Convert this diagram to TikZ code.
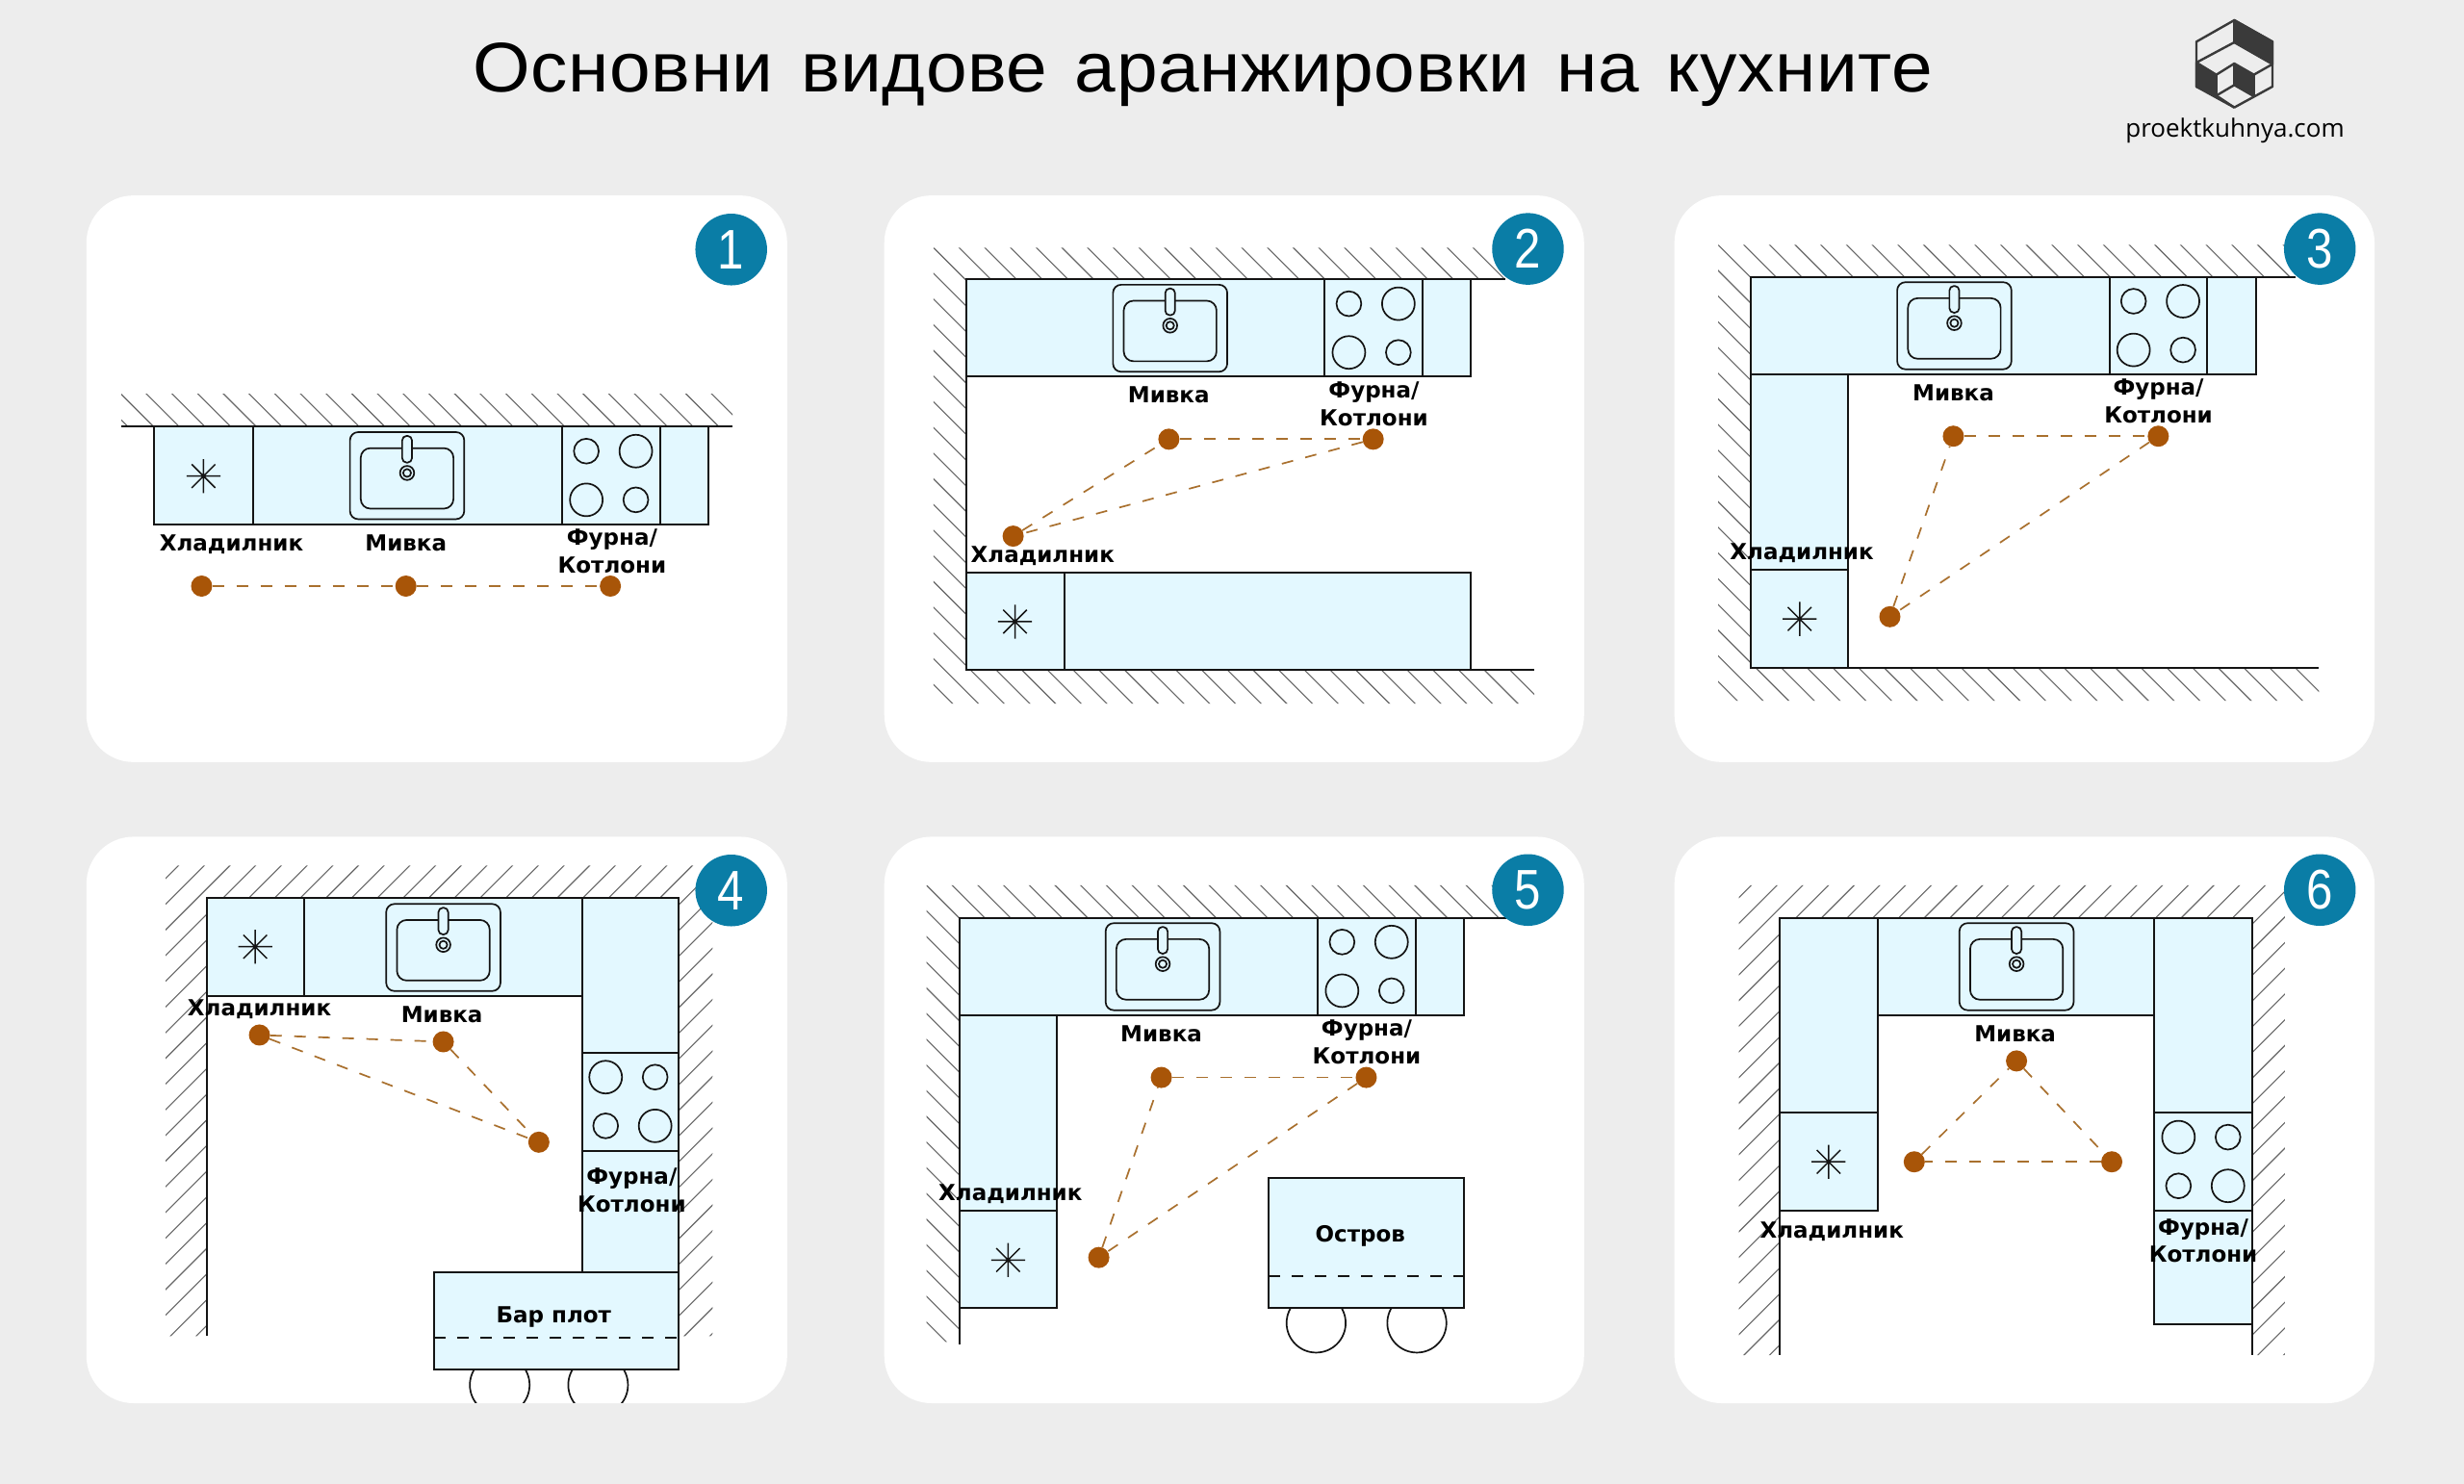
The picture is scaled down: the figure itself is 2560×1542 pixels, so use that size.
\documentclass[tikz,border=0pt]{standalone}
\usepackage{fontspec}
\setmainfont{Liberation Sans}
\newfontfamily\lblfam{DejaVu Sans}[BoldFont={DejaVu Sans Bold}]
\newfontfamily\titlefam{Liberation Sans}[FakeStretch=1.05,LetterSpace=0.8,WordSpace=1.3]
\newfontfamily\digitfam{Liberation Sans}[FakeStretch=0.85]
\newfontfamily\logofam{Open Sans}
\definecolor{bgc}{HTML}{EDEDED}
\definecolor{cabc}{HTML}{E3F8FF}
\definecolor{inkc}{HTML}{141414}
\definecolor{hatchc}{HTML}{666666}
\definecolor{dotc}{HTML}{A85508}
\definecolor{dashc}{HTML}{A9702E}
\definecolor{badgec}{HTML}{0A7DA6}
\definecolor{logoc}{HTML}{3A3A3A}
\tikzset{
  panelbox/.style={fill=white,draw=none,rounded corners=49pt},
  cab/.style={fill=cabc,draw=inkc,line width=2pt},
  wallline/.style={draw=inkc,line width=2pt},
  hatchline/.style={draw=hatchc,line width=1.1pt},
  fixture/.style={draw=inkc,line width=1.7pt},
  lbl/.style={font=\lblfam\bfseries\fontsize{23}{28.4}\selectfont,text=black,inner sep=0pt,align=center},
  lblone/.style={lbl,text height=16.5pt,text depth=0pt},
  tridot/.style={circle,fill=dotc,draw=none,minimum size=22pt,inner sep=0pt},
  tri/.style={draw=dashc,line width=1.7pt,dash pattern=on 12pt off 13pt},
  badge/.style={circle,fill=badgec,draw=none,minimum size=74.5pt,inner sep=0pt,text=white,font=\digitfam\fontsize{58}{58}\selectfont},
  counterdash/.style={draw=inkc,line width=1.7pt,dash pattern=on 12pt off 12pt},
  logoline/.style={draw=logoc,line width=2.4pt,line join=round},
  logofill/.style={fill=logoc,draw=logoc,line width=2.4pt,line join=round},
}
% hatch lines through a point, to be used inside a clip
\newcommand{\hatchback}[2]{\foreach \k in {-40,...,40}{\draw[hatchline] ({#1+\k*16.35-300},{#2-300}) -- ({#1+\k*16.35+300},{#2+300});}}
\newcommand{\hatchfwd}[2]{\foreach \k in {-40,...,40}{\draw[hatchline] ({#1+\k*16.35+300},{#2-300}) -- ({#1+\k*16.35-300},{#2+300});}}
\newcommand{\sinkat}[2]{\begin{scope}[shift={(#1,#2)}]
  \draw[fixture,rounded corners=8.5pt] (-36.35,-27.7) rectangle (36.35,27.7);
  \draw[fixture,rounded corners=10pt] (-29.5,-17.5) rectangle (29.5,21);
  \draw[fixture,fill=cabc,rounded corners=4.6pt] (-3.1,-25.3) rectangle (3.1,-8.3);
  \draw[fixture] (0,-1.7) circle (4.5);
  \draw[fixture] (0,-1.7) circle (2.5);
\end{scope}}
\newcommand{\hobat}[4]{\begin{scope}[shift={(#1,#2)}]
  \draw[fixture] (-15.75,-15.5) circle (#3);
  \draw[fixture] (15.75,-15.5) circle (#4);
  \draw[fixture] (-15.75,15.5) circle (#4);
  \draw[fixture] (15.75,15.5) circle (#3);
\end{scope}}
\newcommand{\snowat}[2]{\begin{scope}[shift={(#1,#2)}]
  \draw[fixture,line width=1.5pt] (-10.8,0)--(10.8,0) (0,-10.8)--(0,10.8) (-7.5,-7.5)--(7.5,7.5) (-7.5,7.5)--(7.5,-7.5);
\end{scope}}
\begin{document}
\begin{tikzpicture}[x=1pt,y=-1pt]
\useasboundingbox (0,0) rectangle (2560,1542);
\fill[bgc] (0,0) rectangle (2560,1542);

% title
\node[anchor=base,inner sep=0pt,font=\titlefam\fontsize{73}{80}\selectfont] (title) at (1250,95) {Основни видове аранжировки на кухните};

% logo
\begin{scope}[shift={(2150,0)},x=0.3333pt,y=-0.3333pt]
  \draw[logoline] (514,63)--(633,130)--(633,270)--(514,335)--(396,270)--(396,130)--cycle;
  \draw[logofill] (514,63)--(633,130)--(633,200)--(514,132)--cycle;
  \draw[logofill] (396,195)--(458,233)--(458,298)--(396,270)--cycle;
  \draw[logofill] (514,198)--(575,233)--(575,300)--(514,265)--cycle;
  \draw[logoline] (396,195)--(514,132);
  \draw[logoline] (458,233)--(514,198);
  \draw[logoline] (575,233)--(633,200);
  \draw[logoline] (458,298)--(514,265);
  \draw[logoline] (458,298)--(514,335);
\end{scope}
\node[inner sep=0pt,font=\logofam\fontsize{26}{30}\selectfont] (logotext) at (2322,136) {proektkuhnya.com};

\begin{scope}[x=1.6327pt,y=-1.6327pt]
% ---------- panel backgrounds
\fill[panelbox] (55,124.4) rectangle (500.9,485);
\fill[panelbox] (562.7,124.4) rectangle (1008,485);
\fill[panelbox] (1065.5,124.4) rectangle (1511,485);
\fill[panelbox] (55,532.5) rectangle (500.9,893);
\fill[panelbox] (562.7,532.5) rectangle (1008,893);
\fill[panelbox] (1065.5,532.5) rectangle (1511,893);

% ---------- panel 1
\begin{scope}
  \clip (77.2,251)--(466.2,251)--(466.2,271.6)--(77.2,271.6)--cycle;
  \hatchback{77.2}{251}
\end{scope}
\draw[cab] (98.3,271.6) rectangle (161,333.6);
\draw[cab] (161,271.6) rectangle (357.8,333.6);
\draw[cab] (357.8,271.6) rectangle (419.9,333.6);
\draw[cab] (419.9,271.6) rectangle (450.7,333.6);
\draw[wallline] (77.2,271.6)--(466.2,271.6);
\sinkat{259.05}{302.7}
\hobat{388.85}{302.6}{7.9}{10.4}
\snowat{129.5}{303}
\node[lblone] (l1f) at (147.3,345.4) {Хладилник};
\node[lblone] (l1s) at (258.3,345.4) {Мивка};
\node[lbl] (l1h) at (389.5,350.7) {Фурна/\\Котлони};
\node[tridot] (d1f) at (128.3,373) {};
\node[tridot] (d1s) at (258.3,373) {};
\node[tridot] (d1h) at (388.4,373) {};
\draw[tri] (d1f)--(d1s);
\draw[tri] (d1s)--(d1h);
\node[badge] (b1) at (465.3,158.8) {1};

% ---------- panel 2
\begin{scope}
  \clip (594,157.6)--(958,157.6)--(958,177.8)--(615.1,177.8)--(615.1,426.5)--(976.4,426.5)--(976.4,447.8)--(594,447.8)--cycle;
  \hatchback{594}{157.6}
\end{scope}
\draw[cab] (615.1,177.8) rectangle (843,239.7);
\draw[cab] (843,177.8) rectangle (905.2,239.7);
\draw[cab] (905.2,177.8) rectangle (936,239.7);
\draw[cab] (615.1,364.6) rectangle (677.2,426.5);
\draw[cab] (677.2,364.6) rectangle (936,426.5);
\draw[wallline] (958,177.8)--(615.1,177.8)--(615.1,426.5)--(976.4,426.5);
\sinkat{744.6}{208.9}
\hobat{874.1}{208.8}{7.9}{10.4}
\snowat{645.9}{395.6}
\node[lblone] (l2s) at (743.7,251.5) {Мивка};
\node[lbl] (l2h) at (874.3,257) {Фурна/\\Котлони};
\node[lblone] (l2f) at (663.5,352.8) {Хладилник};
\node[tridot] (d2s) at (743.8,279.5) {};
\node[tridot] (d2h) at (873.8,279.5) {};
\node[tridot] (d2f) at (644.7,341.2) {};
\draw[tri] (d2s)--(d2h);
\draw[tri] (d2h)--(d2f);
\draw[tri] (d2f)--(d2s);
\node[badge] (b2) at (972.3,158.4) {2};

% ---------- panel 3
\begin{scope}
  \clip (1093.3,155.8)--(1461,155.8)--(1461,176.2)--(1114.1,176.2)--(1114.1,424.8)--(1475.7,424.8)--(1475.7,445.9)--(1093.3,445.9)--cycle;
  \hatchback{1093.3}{155.8}
\end{scope}
\draw[cab] (1114.1,176.2) rectangle (1342.3,238.3);
\draw[cab] (1342.3,176.2) rectangle (1404.5,238.3);
\draw[cab] (1404.5,176.2) rectangle (1435.5,238.3);
\draw[cab] (1114.1,238.3) rectangle (1176.2,362.7);
\draw[cab] (1114.1,362.7) rectangle (1176.2,424.8);
\draw[wallline] (1461,176.2)--(1114.1,176.2)--(1114.1,424.8)--(1475.7,424.8);
\sinkat{1243.6}{207.3}
\hobat{1373.4}{207.2}{7.9}{10.4}
\snowat{1145.2}{393.9}
\node[lblone] (l3s) at (1243,250.2) {Мивка};
\node[lbl] (l3h) at (1373.5,255.3) {Фурна/\\Котлони};
\node[lblone] (l3f) at (1146.6,351.2) {Хладилник};
\node[tridot] (d3s) at (1243,277.6) {};
\node[tridot] (d3h) at (1373.4,277.6) {};
\node[tridot] (d3f) at (1202.6,392.5) {};
\draw[tri] (d3s)--(d3h);
\draw[tri] (d3h)--(d3f);
\draw[tri] (d3f)--(d3s);
\node[badge] (b3) at (1476.2,158.4) {3};

% ---------- panel 4
\begin{scope}
  \clip (105.4,550.9)--(453.4,550.9)--(453.4,850.4)--(432,850.4)--(432,571.7)--(131.5,571.7)--(131.5,850.4)--(105.4,850.4)--cycle;
  \hatchfwd{129.8}{551}
\end{scope}
\begin{scope}
  \clip (55,871.7) rectangle (500.9,892.6);
  \draw[fixture] (318,881.4) circle (19);
  \draw[fixture] (380.6,881.4) circle (19);
\end{scope}
\draw[cab] (131.5,571.7) rectangle (193.6,633.7);
\draw[cab] (193.6,571.7) rectangle (370.3,633.7);
\draw[cab] (370.3,571.7) rectangle (432,669.8);
\draw[cab] (370.3,669.8) rectangle (432,732.3);
\draw[cab] (370.3,732.3) rectangle (432,809.5);
\draw[cab] (276.4,809.5) rectangle (432,871.7);
\draw[counterdash] (276.4,851.2)--(432,851.2);
\draw[wallline] (131.5,571.7)--(131.5,850);
\sinkat{282.1}{603}
\hobat{401.15}{701}{10.4}{7.9}
\snowat{162.4}{602.5}
\node[lblone] (l4f) at (165.1,641.2) {Хладилник};
\node[lblone] (l4s) at (281.2,645.5) {Мивка};
\node[lbl] (l4h) at (402,757.5) {Фурна/\\Котлони};
\node[lblone] (l4b) at (352.4,836.6) {Бар плот};
\node[tridot] (d4f) at (165.1,658.7) {};
\node[tridot] (d4s) at (282.1,663) {};
\node[tridot] (d4h) at (342.9,726.9) {};
\draw[tri] (d4f)--(d4s);
\draw[tri] (d4s)--(d4h);
\draw[tri] (d4f)--(d4h);
\node[badge] (b4) at (465.3,566.7) {4};

% ---------- panel 5
\begin{scope}
  \clip (589.6,563.4)--(958.8,563.4)--(958.8,584)--(610.4,584)--(610.4,854)--(589.6,854)--cycle;
  \hatchback{589.6}{563.4}
\end{scope}
\draw[fixture] (837.5,842) circle (18.8);
\draw[fixture] (901.6,842) circle (18.8);
\draw[cab] (610.4,584) rectangle (838.7,646.1);
\draw[cab] (838.7,584) rectangle (900.8,646.1);
\draw[cab] (900.8,584) rectangle (931.6,646.1);
\draw[cab] (610.4,646.1) rectangle (672.5,770.3);
\draw[cab] (610.4,770.3) rectangle (672.5,832.6);
\draw[cab] (807.3,749.9) rectangle (931.6,832.6);
\draw[counterdash] (807.3,812)--(931.6,812);
\draw[wallline] (958.8,584)--(610.4,584)--(610.4,855.8);
\sinkat{739.9}{615.2}
\hobat{869.75}{615}{7.9}{10.4}
\snowat{641.5}{801.9}
\node[lblone] (l5s) at (739,657.8) {Мивка};
\node[lbl] (l5h) at (869.7,663.2) {Фурна/\\Котлони};
\node[lblone] (l5f) at (643,759) {Хладилник};
\node[lblone] (l5i) at (865.6,785.5) {Остров};
\node[tridot] (d5s) at (739,685.7) {};
\node[tridot] (d5h) at (869.4,685.7) {};
\node[tridot] (d5f) at (699.2,800.3) {};
\draw[tri] (d5s)--(d5h);
\draw[tri] (d5h)--(d5f);
\draw[tri] (d5f)--(d5s);
\node[badge] (b5) at (972.3,566.4) {5};

% ---------- panel 6
\begin{scope}
  \clip (1106.5,563.4)--(1454,563.4)--(1454,862.4)--(1433.2,862.4)--(1433.2,584)--(1132.6,584)--(1132.6,862.4)--(1106.5,862.4)--cycle;
  \hatchfwd{1130.8}{563.4}
\end{scope}
\draw[cab] (1132.6,584) rectangle (1194.7,708);
\draw[cab] (1132.6,708) rectangle (1194.7,770.3);
\draw[cab] (1194.7,584) rectangle (1370.8,646.1);
\draw[cab] (1370.8,584) rectangle (1433.2,708);
\draw[cab] (1370.8,708) rectangle (1433.2,770.3);
\draw[cab] (1370.8,770.3) rectangle (1433.2,842.9);
\draw[wallline] (1132.6,584)--(1132.6,862.4);
\draw[wallline] (1433.2,584)--(1433.2,862.4);
\sinkat{1283.2}{615.2}
\hobat{1402}{739.2}{10.4}{7.9}
\snowat{1163.6}{739.4}
\node[lblone] (l6s) at (1282.3,657.8) {Мивка};
\node[lblone] (l6f) at (1165.7,782.7) {Хладилник};
\node[lbl] (l6h) at (1402,789.5) {Фурна/\\Котлони};
\node[tridot] (d6s) at (1283.2,675.2) {};
\node[tridot] (d6f) at (1218.1,739.4) {};
\node[tridot] (d6h) at (1343.8,739.4) {};
\draw[tri] (d6s)--(d6h);
\draw[tri] (d6h)--(d6f);
\draw[tri] (d6f)--(d6s);
\node[badge] (b6) at (1476.2,566.4) {6};
\end{scope}
\end{tikzpicture}
\end{document}
